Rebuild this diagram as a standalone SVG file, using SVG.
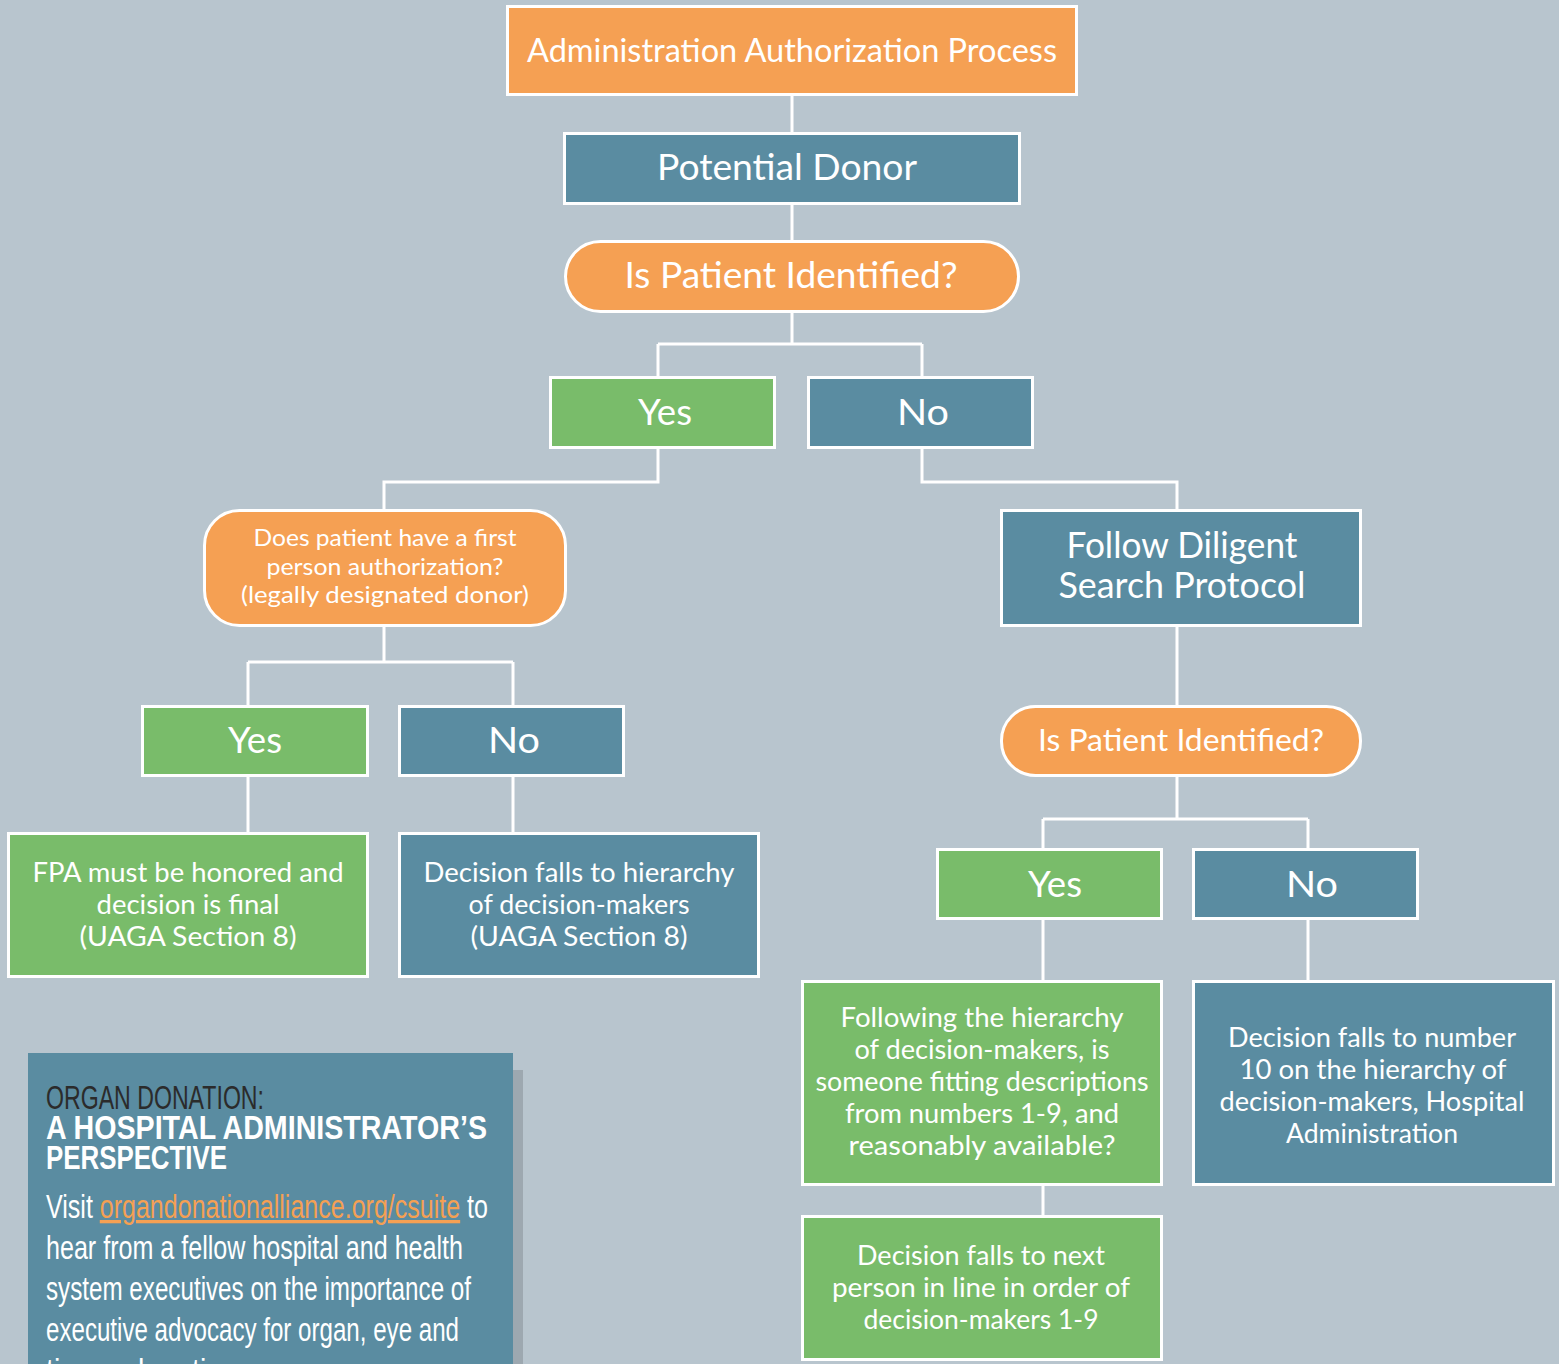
<svg xmlns="http://www.w3.org/2000/svg" width="1559" height="1364" viewBox="0 0 1559 1364">
<style>
.o{fill:#f5a053;stroke:#fff;stroke-width:3}
.t{fill:#5a8ca1;stroke:#fff;stroke-width:3}
.g{fill:#79bc6a;stroke:#fff;stroke-width:3}
text{font-family:Lato,"Liberation Sans",sans-serif;fill:#fff;text-anchor:middle}
.c{fill:none;stroke:#fff;stroke-width:3}
.n{font-family:"Liberation Sans",Arial,sans-serif;text-anchor:start}
</style>
<rect width="1559" height="1364" fill="#b8c5ce"/>
<g id="connectors">
<path class="c" d="M792 95V133M792 204V241M792 312V344M658 344H922M658 344V377M922 344V377"/>
<path class="c" d="M658 448V482H384V510M922 448V482H1177V510"/>
<path class="c" d="M384 626V662M248 662H513M248 662V706M513 662V706M248 776V833M513 776V833"/>
<path class="c" d="M1177 626V706M1177 776V819M1043 819H1308M1043 819V849M1308 819V849M1043 919V981M1308 919V981M1043 1185V1216"/>
</g>
<g id="n-admin"><rect class="o" x="507.5" y="6.5" width="569" height="88"/><text x="792" y="62" font-size="33" textLength="530" lengthAdjust="spacingAndGlyphs">Administration Authorization Process</text></g>
<g id="n-donor"><rect class="t" x="564.5" y="133.5" width="455" height="70"/><text x="787" y="180" font-size="37" textLength="260" lengthAdjust="spacingAndGlyphs">Potential Donor</text></g>
<g id="n-ident1"><rect class="o" x="565.5" y="241.5" width="453" height="70" rx="35"/><text x="791" y="288" font-size="37" textLength="333" lengthAdjust="spacingAndGlyphs">Is Patient Identified?</text></g>
<g id="n-yes1"><rect class="g" x="550.5" y="377.5" width="224" height="70"/><text x="665" y="425" font-size="37" textLength="54" lengthAdjust="spacingAndGlyphs">Yes</text></g>
<g id="n-no1"><rect class="t" x="808.5" y="377.5" width="224" height="70"/><text x="923" y="425" font-size="37" textLength="52" lengthAdjust="spacingAndGlyphs">No</text></g>
<g id="n-fpa-q"><rect class="o" x="204.5" y="510.5" width="361" height="115" rx="35"/>
<text font-size="24" x="385" y="546" textLength="263" lengthAdjust="spacingAndGlyphs">Does patient have a first</text>
<text font-size="24" x="385" y="575" textLength="237" lengthAdjust="spacingAndGlyphs">person authorization?</text>
<text font-size="24" x="385" y="603" textLength="288" lengthAdjust="spacingAndGlyphs">(legally designated donor)</text></g>
<g id="n-diligent"><rect class="t" x="1001.5" y="510.5" width="359" height="115"/>
<text font-size="36" x="1182" y="558" textLength="231" lengthAdjust="spacingAndGlyphs">Follow Diligent</text>
<text font-size="36" x="1182" y="598" textLength="247" lengthAdjust="spacingAndGlyphs">Search Protocol</text></g>
<g id="n-yes2"><rect class="g" x="142.5" y="706.5" width="225" height="69"/><text x="255" y="753" font-size="37" textLength="54" lengthAdjust="spacingAndGlyphs">Yes</text></g>
<g id="n-no2"><rect class="t" x="399.5" y="706.5" width="224" height="69"/><text x="514" y="753" font-size="37" textLength="52" lengthAdjust="spacingAndGlyphs">No</text></g>
<g id="n-ident2"><rect class="o" x="1001.5" y="706.5" width="359" height="69" rx="34"/><text x="1181" y="751" font-size="31" textLength="286" lengthAdjust="spacingAndGlyphs">Is Patient Identified?</text></g>
<g id="n-fpa"><rect class="g" x="8.5" y="833.5" width="359" height="143"/>
<text font-size="27" x="188" y="882" textLength="311" lengthAdjust="spacingAndGlyphs">FPA must be honored and</text>
<text font-size="27" x="188" y="914" textLength="183" lengthAdjust="spacingAndGlyphs">decision is final</text>
<text font-size="27" x="188" y="946" textLength="217" lengthAdjust="spacingAndGlyphs">(UAGA Section 8)</text></g>
<g id="n-hier"><rect class="t" x="399.5" y="833.5" width="359" height="143"/>
<text font-size="27" x="579" y="882" textLength="311" lengthAdjust="spacingAndGlyphs">Decision falls to hierarchy</text>
<text font-size="27" x="579" y="914" textLength="221" lengthAdjust="spacingAndGlyphs">of decision-makers</text>
<text font-size="27" x="579" y="946" textLength="217" lengthAdjust="spacingAndGlyphs">(UAGA Section 8)</text></g>
<g id="n-yes3"><rect class="g" x="937.5" y="849.5" width="224" height="69"/><text x="1055" y="897" font-size="37" textLength="54" lengthAdjust="spacingAndGlyphs">Yes</text></g>
<g id="n-no3"><rect class="t" x="1193.5" y="849.5" width="224" height="69"/><text x="1312" y="897" font-size="37" textLength="52" lengthAdjust="spacingAndGlyphs">No</text></g>
<g id="n-follow"><rect class="g" x="802.5" y="981.5" width="359" height="203"/>
<text font-size="27" x="982" y="1027" textLength="283" lengthAdjust="spacingAndGlyphs">Following the hierarchy</text>
<text font-size="27" x="982" y="1059" textLength="255" lengthAdjust="spacingAndGlyphs">of decision-makers, is</text>
<text font-size="27" x="982" y="1091" textLength="333" lengthAdjust="spacingAndGlyphs">someone fitting descriptions</text>
<text font-size="27" x="982" y="1123" textLength="274" lengthAdjust="spacingAndGlyphs">from numbers 1-9, and</text>
<text font-size="27" x="982" y="1155" textLength="267" lengthAdjust="spacingAndGlyphs">reasonably available?</text></g>
<g id="n-num10"><rect class="t" x="1193.5" y="981.5" width="360" height="203"/>
<text font-size="27" x="1372" y="1047" textLength="288" lengthAdjust="spacingAndGlyphs">Decision falls to number</text>
<text font-size="27" x="1373" y="1079" textLength="267" lengthAdjust="spacingAndGlyphs">10 on the hierarchy of</text>
<text font-size="27" x="1372" y="1111" textLength="305" lengthAdjust="spacingAndGlyphs">decision-makers, Hospital</text>
<text font-size="27" x="1372" y="1143" textLength="172" lengthAdjust="spacingAndGlyphs">Administration</text></g>
<g id="n-next"><rect class="g" x="802.5" y="1216.5" width="359" height="143"/>
<text font-size="27" x="981" y="1265" textLength="248" lengthAdjust="spacingAndGlyphs">Decision falls to next</text>
<text font-size="27" x="981" y="1297" textLength="298" lengthAdjust="spacingAndGlyphs">person in line in order of</text>
<text font-size="27" x="981" y="1329" textLength="235" lengthAdjust="spacingAndGlyphs">decision-makers 1-9</text></g>
<g id="info">
<rect x="513" y="1070" width="10" height="294" fill="#9da8b0"/>
<rect x="28" y="1053" width="485" height="311" fill="#5a8ca1"/>
<text class="n" font-size="34" lengthAdjust="spacingAndGlyphs"><tspan x="46" y="1109" style="fill:#2b2b2b" textLength="218" lengthAdjust="spacingAndGlyphs">ORGAN DONATION:</tspan><tspan x="46" y="1139" font-weight="bold" textLength="441" lengthAdjust="spacingAndGlyphs">A HOSPITAL ADMINISTRATOR’S</tspan><tspan x="46" y="1169" font-weight="bold" textLength="181" lengthAdjust="spacingAndGlyphs">PERSPECTIVE</tspan></text>
<text class="n" x="46" y="1218" font-size="33" textLength="442" lengthAdjust="spacingAndGlyphs">Visit <tspan style="fill:#f5a053" text-decoration="underline">organdonationalliance.org/csuite</tspan> to</text>
<text class="n" x="46" y="1259" font-size="33" textLength="417" lengthAdjust="spacingAndGlyphs">hear from a fellow hospital and health</text>
<text class="n" x="46" y="1300" font-size="33" textLength="425" lengthAdjust="spacingAndGlyphs">system executives on the importance of</text>
<text class="n" x="46" y="1341" font-size="33" textLength="413" lengthAdjust="spacingAndGlyphs">executive advocacy for organ, eye and</text>
<text class="n" x="46" y="1382" font-size="33" textLength="200" lengthAdjust="spacingAndGlyphs">tissue donation.</text>
</g>
</svg>
